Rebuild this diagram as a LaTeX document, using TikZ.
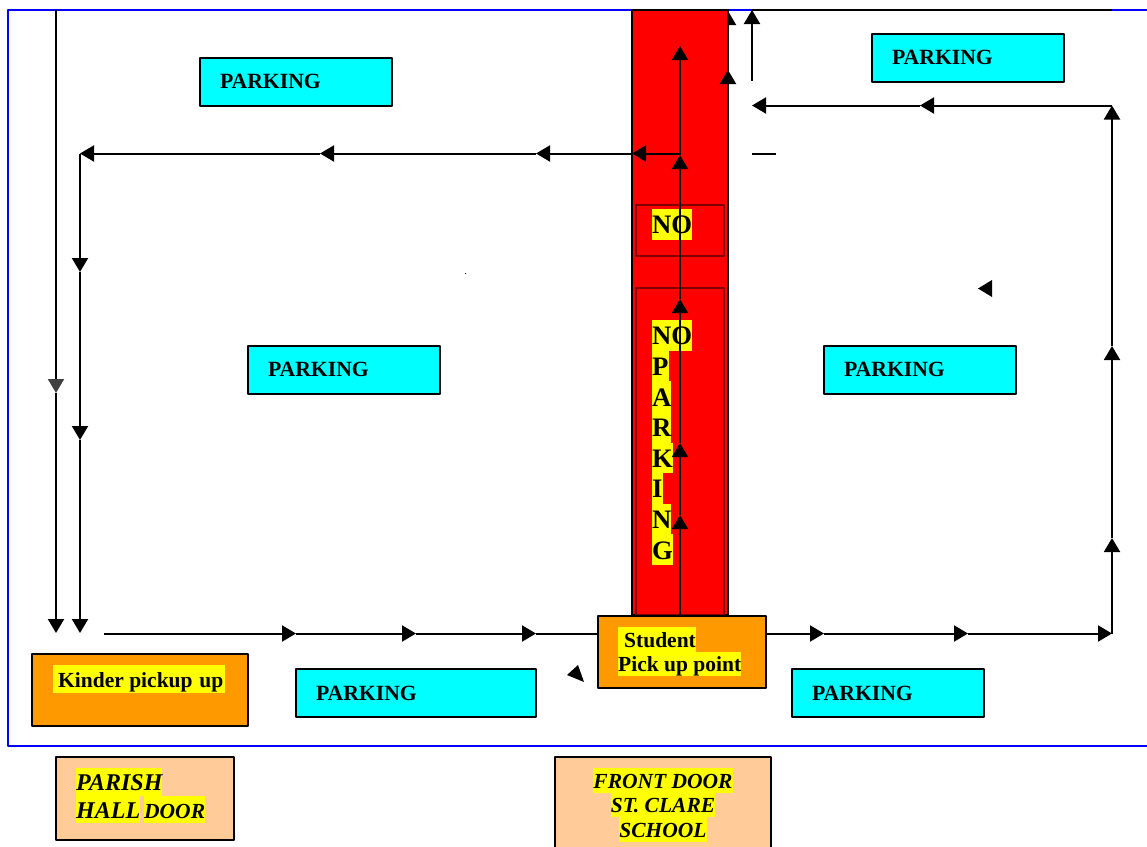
\documentclass[tikz,border=0pt]{standalone}
\usepackage{fontspec}
\setmainfont{Liberation Serif}
\usepackage{tikz}
\usetikzlibrary{arrows.meta}

\definecolor{lotcyan}{HTML}{00FFFF}
\definecolor{pickorange}{HTML}{FF9900}
\definecolor{doorpeach}{HTML}{FFCC99}
\definecolor{nodark}{HTML}{800000}
\definecolor{hlyellow}{HTML}{FFFF00}
\definecolor{stripred}{HTML}{FF0000}
\definecolor{frameblue}{HTML}{0000FF}
\definecolor{roadgrey}{HTML}{404040}

\setlength{\fboxsep}{0pt}
\lineskiplimit=-5pt
\newcommand{\hl}[1]{\colorbox{hlyellow}{\rule[-0.19\baselineskip]{0pt}{\baselineskip}#1}}

\tikzset{
	box/.style={draw=black, line width=2pt, inner sep=0pt, minimum width=#1},
	lotbox/.style={box=192pt, fill=lotcyan, minimum height=48pt, text width=152pt, align=left, font=\fontsize{21.7}{25}\selectfont\bfseries},
	pickbox/.style={box=#1, fill=pickorange},
	doorbox/.style={box=#1, fill=doorpeach},
	nobox/.style={draw=nodark, line width=1.4pt, minimum width=88pt, inner sep=0pt},
	lbl/.style={inner sep=0pt, anchor=north west, align=left, font=\fontsize{21.5}{24.6}\selectfont\bfseries},
	road/.style={line width=2pt, -{Triangle[length=14pt,width=16pt]}},
	plain/.style={line width=2pt}
}

\begin{document}
\begin{tikzpicture}[x=1pt, y=-1pt, line join=round]
\useasboundingbox (0,0) rectangle (1147,846);

% Outer frame
\draw[frameblue, line width=2pt] (1150,9.5) -- (8,9.5) -- (8,746) -- (1150,746);

% Head half hidden by the strip
\coordinate (e2) at (728,25);
\coordinate (e3) at (728,11);
\draw[road] (e2) -- (e3);

% No parking strip
\node[box=96pt, fill=stripred, minimum height=605pt] (strip) at (680,312.5) {};
\node[nobox, minimum height=51pt] (nobox1) at (680,230.5) {};
\node[nobox, minimum height=327pt] (nobox2) at (680,451.5) {};
\node[lbl, font=\fontsize{26.7}{30.6}\selectfont\bfseries] (notext1) at (652,209) {\hl{NO}};
\node[lbl, font=\fontsize{26.7}{30.6}\selectfont\bfseries] (notext2) at (652,320) {\hl{NO}\\\hl{P}\\\hl{A}\\\hl{R}\\\hl{K}\\\hl{I}\\\hl{N}\\\hl{G}};

% Parking lots
\node[lotbox] (lot1) at (296,81.5) {PARKING};
\node[lotbox] (lot2) at (968,57.5) {PARKING};
\node[lotbox] (lot3) at (344,369.5) {PARKING};
\node[lotbox] (lot4) at (920,369.5) {PARKING};
\node[lotbox, minimum width=240pt, text width=200pt] (lot5) at (416,693) {PARKING};
\node[lotbox] (lot6) at (888,693) {PARKING};

% Pick up points
\node[pickbox=216pt, minimum height=72pt] (kinder) at (140,690) {};
\node[pickbox=168pt, minimum height=72pt] (student) at (682,652) {};
\node[lbl, font=\fontsize{21.5}{27.6}\selectfont\bfseries] (kindertext) at (53,665) {\hl{\hspace{5pt}Kinder pickup\hspace{1.5pt} up\hspace{1.5pt}}};
\node[lbl] (studenttext) at (618,627) {\hl{\hspace{6pt}Student}\\\hl{Pick up point}};

% Doors
\node[doorbox=178pt, minimum height=83pt] (hall) at (145,798.5) {};
\node[doorbox=216pt, minimum height=110pt] (school) at (663,812) {};
\node[lbl, font=\fontsize{24}{27.6}\selectfont\bfseries\itshape] (halltext) at (76,768) {\hl{PARISH}\\\hl{HALL}\,\hl{\fontsize{21.5}{27.6}\selectfont DOOR}};
\node[lbl, anchor=north, align=center, font=\fontsize{21.5}{24.6}\selectfont\bfseries\itshape] (schooltext) at (663,768) {\hl{FRONT DOOR}\\\hl{ST. CLARE}\\\hl{SCHOOL}};

% Route points
\foreach \n/\x in {b0/104,b1/296,b2/416,b3/536,b4/824,b5/968,b6/1112} {
	\coordinate (\n) at (\x,633.5);
}
\foreach \n/\y in {r1/538,r2/346,r3/105.5} {
	\coordinate (\n) at (1112,\y);
}
\foreach \n/\x in {t1/920,t2/752} {
	\coordinate (\n) at (\x,105.5);
}
\foreach \n/\x in {m0/680,m1/632,m2/536,m3/320,m4/80} {
	\coordinate (\n) at (\x,153.5);
}
\foreach \n/\y in {d1/272,d2/440,d3/633} {
	\coordinate (\n) at (80,\y);
}
\foreach \n/\y in {c1/515,c2/443,c3/299,c4/155,c5/46} {
	\coordinate (\n) at (680,\y);
}
\coordinate (u0) at (752,81);
\coordinate (u1) at (752,10);
\coordinate (u2) at (1112,10);
\coordinate (s0) at (776,153.5);
\coordinate (s1) at (752,153.5);
\coordinate (e0) at (728,84);
\coordinate (e1) at (728,70);
\coordinate (k0) at (56,10);
\coordinate (k1) at (56,379);
\coordinate (k2) at (56,393);
\coordinate (k3) at (56,633);

% Bottom and right side of the route
\draw[road] (b0) -- (b1);
\draw[road] (b1) -- (b2);
\draw[road] (b2) -- (b3);
\draw[plain] (b3) -- (student.west |- b3);
\draw[road] (student.east |- b4) -- (b4);
\draw[road] (b4) -- (b5);
\draw[road] (b5) -- (b6);
\foreach \a/\b in {b6/r1,r1/r2,r2/r3} {
	\draw[road] (\a) -- (\b);
}
\draw[road] (r3) -- (t1);
\draw[road] (t1) -- (t2);
\draw[road] (u0) -- (u1);
\draw[plain] (u1) -- (u2);
\draw[plain] (s0) -- (s1);

% Through the strip
\draw[road] (c1 |- student.north) -- (c1);
\foreach \a/\b in {c1/c2,c2/c3,c3/c4,c4/c5} {
	\draw[road] (\a) -- (\b);
}
\foreach \a/\b in {m0/m1,m1/m2,m2/m3,m3/m4} {
	\draw[road] (\a) -- (\b);
}
\foreach \a/\b in {m4/d1,d1/d2,d2/d3} {
	\draw[road] (\a) -- (\b);
}
\draw[road] (e0) -- (e1);

% Far left line
\draw[plain] (k0) -- (k1);
\draw[road, color=roadgrey] (k1) -- (k2);
\draw[road] (k2) -- (k3);

% Loose arrow heads
\fill (992,280) -- (978,288.5) -- (992,297) -- cycle;
\fill (578,665) -- (567,675) -- (584,682) -- cycle;
\fill (464.5,272.5) rectangle (465.5,273.5);

\end{tikzpicture}
\end{document}
